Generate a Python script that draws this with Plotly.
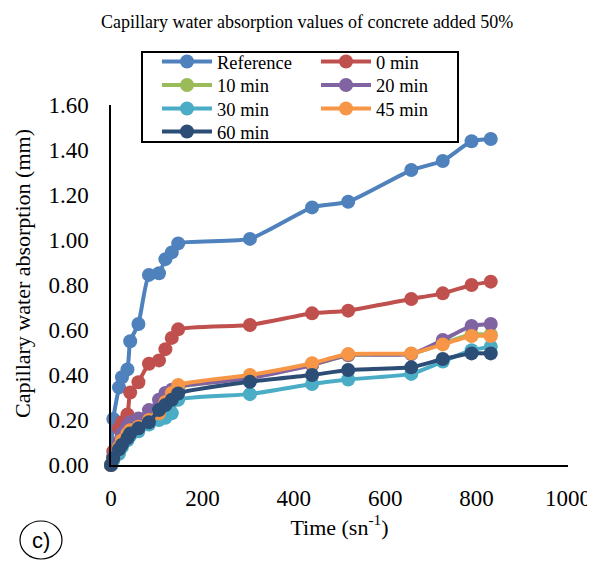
import plotly.graph_objects as go

time_x = [0, 5, 17.5, 24, 36, 42, 60, 83, 105, 119, 133, 147, 304, 440, 519, 657, 726, 789, 831]

series_names = ["Reference", "0 min", "10 min", "20 min", "30 min", "45 min", "60 min"]
ref_vals = [0, 0.205, 0.345, 0.39, 0.425, 0.55, 0.627, 0.845, 0.852, 0.915, 0.945, 0.985, 1.005, 1.145, 1.17, 1.311, 1.351, 1.439, 1.449]
min0_vals = [0, 0.06, 0.163, 0.19, 0.225, 0.322, 0.368, 0.45, 0.465, 0.515, 0.565, 0.603, 0.622, 0.674, 0.686, 0.738, 0.763, 0.80, 0.815]
min10_vals = [0, 0.03, 0.09, 0.12, 0.155, 0.17, 0.19, 0.22, 0.26, 0.29, 0.32, 0.345, 0.39, 0.445, 0.488, 0.494, 0.54, 0.58, 0.58]
min20_vals = [0, 0.04, 0.10, 0.14, 0.175, 0.19, 0.207, 0.244, 0.29, 0.32, 0.335, 0.35, 0.385, 0.444, 0.489, 0.493, 0.556, 0.618, 0.627]
min30_vals = [0, 0.02, 0.05, 0.08, 0.11, 0.13, 0.15, 0.18, 0.20, 0.21, 0.23, 0.29, 0.315, 0.36, 0.38, 0.405, 0.46, 0.51, 0.526]
min45_vals = [0, 0.03, 0.08, 0.11, 0.14, 0.155, 0.17, 0.20, 0.23, 0.28, 0.32, 0.356, 0.40, 0.452, 0.493, 0.496, 0.536, 0.573, 0.573]
min60_vals = [0, 0.03, 0.07, 0.09, 0.12, 0.14, 0.163, 0.19, 0.244, 0.267, 0.29, 0.318, 0.37, 0.40, 0.422, 0.434, 0.471, 0.496, 0.496]

colors = ["#4F81BD", "#C0504D", "#9BBB59", "#8064A2", "#4BACC6", "#F79646", "#2C4D75"]
all_vals = [ref_vals, min0_vals, min10_vals, min20_vals, min30_vals, min45_vals, min60_vals]

# legend grid: (column, row) of each series in the two-column legend
legend_cells = [(0, 0), (1, 0), (0, 1), (1, 1), (0, 2), (1, 2), (0, 3)]

SERIF = "Liberation Serif"

# page has an 8px body margin; figure is offset by 8px
OFF = 8
W, H = 595 - OFF, 561 - OFF
L, R, T, B = 111 - OFF, 27, 105 - OFF, 96
pw, ph = W - L - R, H - T - B

def px2x(px):  # page pixel -> paper x
    return (px - OFF - L) / pw

def py2y(py):  # page pixel -> paper y
    return (H - B - (py - OFF)) / ph

col_left = [157, 316]
row_center = [62, 85.5, 109, 132]

fig = go.Figure()
legend_layouts = {}
for i, (name, vals, col, cell) in enumerate(zip(series_names, all_vals, colors, legend_cells)):
    lg = "legend" if i == 0 else f"legend{i + 1}"
    fig.add_trace(go.Scatter(
        x=time_x, y=vals, name=name, mode="lines+markers",
        line=dict(color=col, width=4, shape="spline", smoothing=0.5),
        marker=dict(color=col, size=14),
        cliponaxis=False, legend=lg,
    ))
    legend_layouts[lg] = dict(
        font=dict(family=SERIF, size=18.5, color="black"),
        bgcolor="rgba(0,0,0,0)", borderwidth=0,
        xanchor="left", yanchor="middle", orientation="v",
        itemwidth=50,
        x=px2x(col_left[cell[0]]), y=py2y(row_center[cell[1]]),
    )

fig.update_layout(
    width=W, height=H,
    margin=dict(l=L, r=R, t=T, b=B, autoexpand=False),
    paper_bgcolor="white", plot_bgcolor="white",
    showlegend=True,
    xaxis=dict(
        range=[0, 1000], dtick=200, showgrid=False, zeroline=False, automargin=False,
        showline=True, linecolor="black", linewidth=1.5, ticks="",
        tickfont=dict(family=SERIF, size=23, color="black"),
        ticklabelstandoff=12,
        title=dict(text="Time (sn<sup>-1</sup>)", font=dict(family=SERIF, size=22, color="black"), standoff=8),
    ),
    yaxis=dict(
        range=[0, 1.6], dtick=0.2, tickformat=".2f", showgrid=False, zeroline=False, automargin=False,
        showline=True, linecolor="black", linewidth=1.5, ticks="",
        tickfont=dict(family=SERIF, size=23, color="black"),
        ticklabelstandoff=16,
    ),
    shapes=[
        dict(type="rect", xref="paper", yref="paper",
             x0=px2x(142), x1=px2x(458), y0=py2y(142), y1=py2y(52),
             line=dict(color="black", width=2), fillcolor="rgba(0,0,0,0)", layer="above"),
        dict(type="circle", xref="paper", yref="paper",
             x0=px2x(20), x1=px2x(62), y0=py2y(559), y1=py2y(521),
             line=dict(color="black", width=1.2)),
    ],
    annotations=[
        dict(text="Capillary water absorption values of concrete added 50%",
             xref="paper", yref="paper", x=px2x(307), y=py2y(22),
             xanchor="center", yanchor="middle", showarrow=False,
             font=dict(family=SERIF, size=18, color="black")),
        dict(text="Capillary water absorption (mm)",
             xref="paper", yref="paper", x=px2x(22), y=py2y(274),
             xanchor="center", yanchor="middle", showarrow=False, textangle=-90,
             font=dict(family=SERIF, size=22, color="black")),
        dict(text="c)", xref="paper", yref="paper", x=px2x(41), y=py2y(540),
             xanchor="center", yanchor="middle", showarrow=False,
             font=dict(family="Liberation Sans", size=22, color="black")),
    ],
)
fig.update_layout(**legend_layouts)

fig.write_html("out.html")
